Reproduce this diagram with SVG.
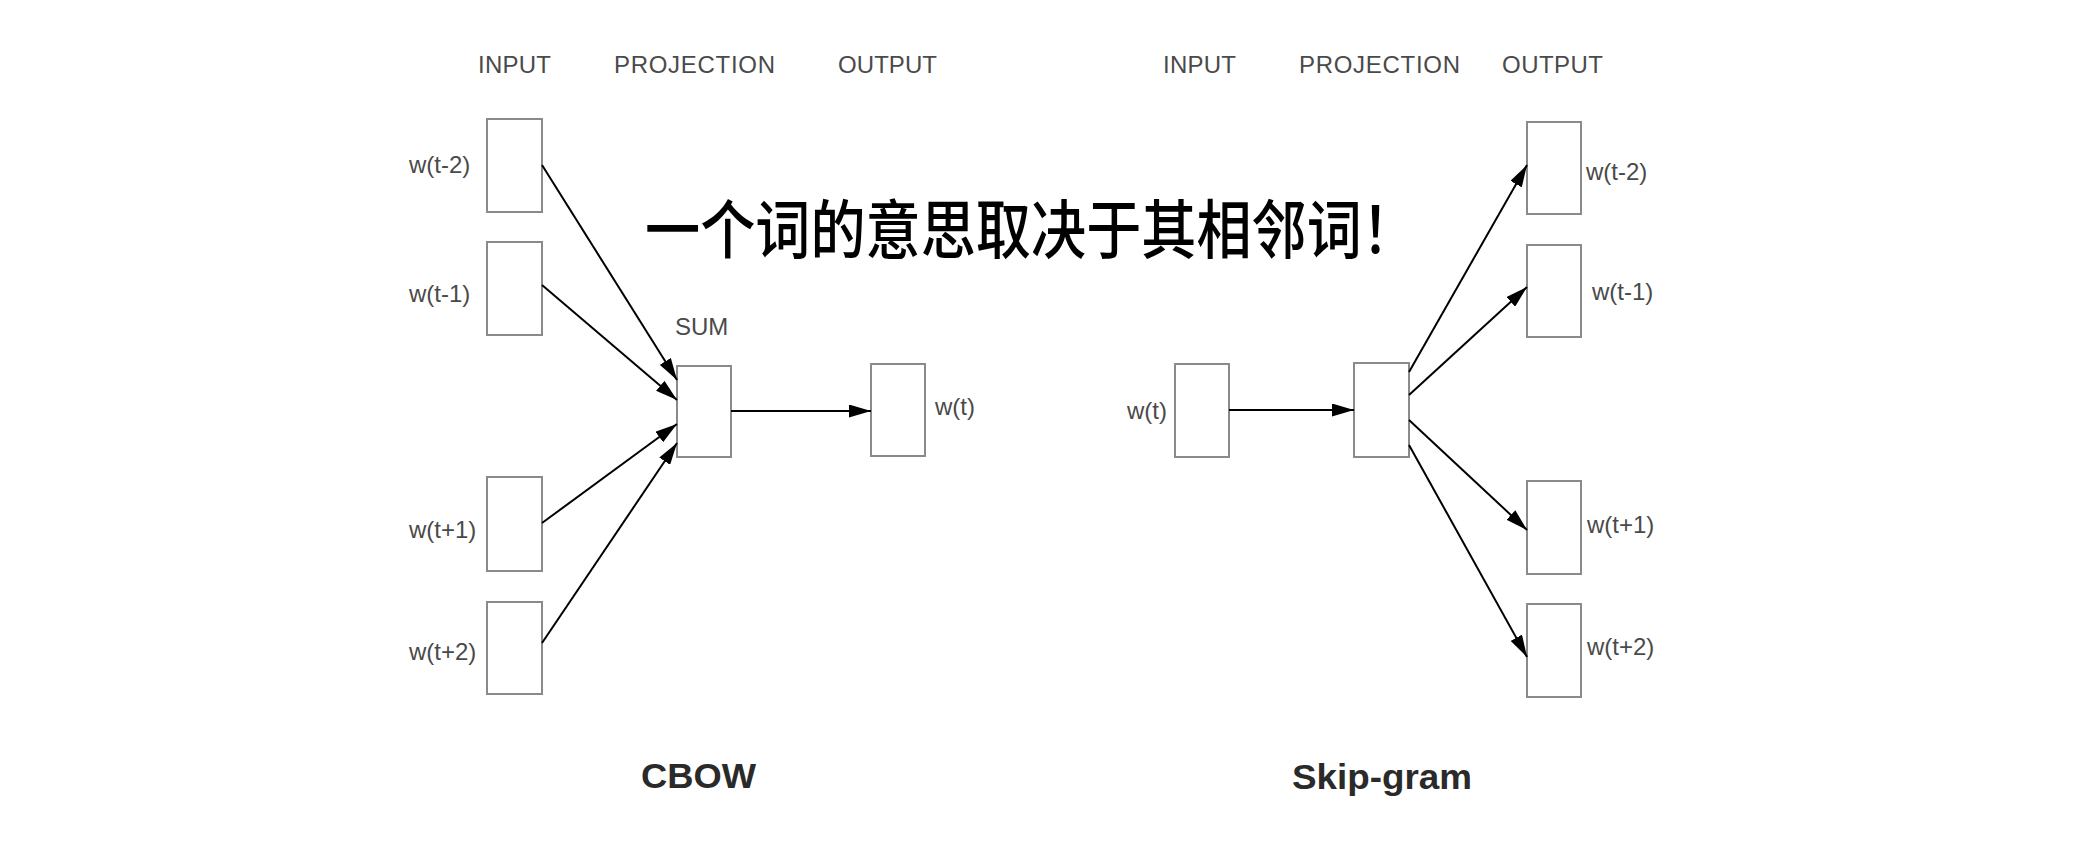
<svg xmlns="http://www.w3.org/2000/svg" width="2086" height="868" viewBox="0 0 2086 868">
<style>
.box{fill:#fff;stroke:#8a8a8a;stroke-width:2}
.lbl{font-family:"Liberation Sans",Arial,sans-serif;font-size:24px;fill:#4a4a4a}
.ttl{font-family:"Liberation Sans",Arial,sans-serif;font-size:35px;font-weight:bold;fill:#2a2a2a}
.edge{stroke:#000;stroke-width:2;fill:none;marker-end:url(#arr)}
.cn{font-family:"Noto Sans CJK SC",sans-serif;font-size:64px;font-weight:500;fill:#000}
</style>
<defs>
<marker id="arr" markerWidth="22" markerHeight="13" refX="22" refY="6.5" orient="auto" markerUnits="userSpaceOnUse">
<path d="M0,0 L22,6.5 L0,13 Z" fill="#000"/>
</marker>
</defs>
<rect width="2086" height="868" fill="#fff"/>
<g id="headers">
<text class="lbl" x="478" y="73" textLength="73">INPUT</text>
<text class="lbl" x="614" y="73" textLength="161">PROJECTION</text>
<text class="lbl" x="838" y="73" textLength="99">OUTPUT</text>
<text class="lbl" x="1163" y="73" textLength="73">INPUT</text>
<text class="lbl" x="1299" y="73" textLength="161">PROJECTION</text>
<text class="lbl" x="1502" y="73" textLength="101">OUTPUT</text>
</g>
<g id="cbow-in-t-2"><rect class="box" x="487" y="119" width="55" height="93"/><text class="lbl" x="409" y="173">w(t-2)</text></g>
<g id="cbow-in-t-1"><rect class="box" x="487" y="242" width="55" height="93"/><text class="lbl" x="409" y="302">w(t-1)</text></g>
<g id="cbow-in-t+1"><rect class="box" x="487" y="477" width="55" height="94"/><text class="lbl" x="409" y="538">w(t+1)</text></g>
<g id="cbow-in-t+2"><rect class="box" x="487" y="602" width="55" height="92"/><text class="lbl" x="409" y="660">w(t+2)</text></g>
<g id="cbow-sum"><rect class="box" x="677" y="366" width="54" height="91"/><text class="lbl" x="675" y="335">SUM</text></g>
<g id="cbow-out"><rect class="box" x="871" y="364" width="54" height="92"/><text class="lbl" x="935" y="415">w(t)</text></g>
<g id="cbow-title"><text class="ttl" x="641" y="788" textLength="115" lengthAdjust="spacingAndGlyphs">CBOW</text></g>
<g id="sg-in"><rect class="box" x="1175" y="364" width="54" height="93"/><text class="lbl" x="1127" y="419">w(t)</text></g>
<g id="sg-proj"><rect class="box" x="1354" y="363" width="55" height="94"/></g>
<g id="sg-out-t-2"><rect class="box" x="1527" y="122" width="54" height="92"/><text class="lbl" x="1586" y="180">w(t-2)</text></g>
<g id="sg-out-t-1"><rect class="box" x="1527" y="245" width="54" height="92"/><text class="lbl" x="1592" y="300">w(t-1)</text></g>
<g id="sg-out-t+1"><rect class="box" x="1527" y="481" width="54" height="93"/><text class="lbl" x="1587" y="533">w(t+1)</text></g>
<g id="sg-out-t+2"><rect class="box" x="1527" y="604" width="54" height="93"/><text class="lbl" x="1587" y="655">w(t+2)</text></g>
<g id="sg-title"><text class="ttl" x="1292" y="789" textLength="180" lengthAdjust="spacingAndGlyphs">Skip-gram</text></g>
<g id="connectors">
<line class="edge" x1="542" y1="165" x2="677" y2="380"/>
<line class="edge" x1="542" y1="285" x2="677" y2="400"/>
<line class="edge" x1="542" y1="523" x2="677" y2="424"/>
<line class="edge" x1="542" y1="643" x2="677" y2="443"/>
<line class="edge" x1="731" y1="411" x2="871" y2="411"/>
<line class="edge" x1="1229" y1="410" x2="1354" y2="410"/>
<line class="edge" x1="1409" y1="372" x2="1527" y2="165"/>
<line class="edge" x1="1409" y1="395" x2="1527" y2="287"/>
<line class="edge" x1="1409" y1="420" x2="1527" y2="530"/>
<line class="edge" x1="1409" y1="445" x2="1527" y2="657"/>
</g>
<g id="caption"><text class="cn" x="645" y="253" textLength="772" lengthAdjust="spacingAndGlyphs">一个词的意思取决于其相邻词！</text></g>
</svg>
